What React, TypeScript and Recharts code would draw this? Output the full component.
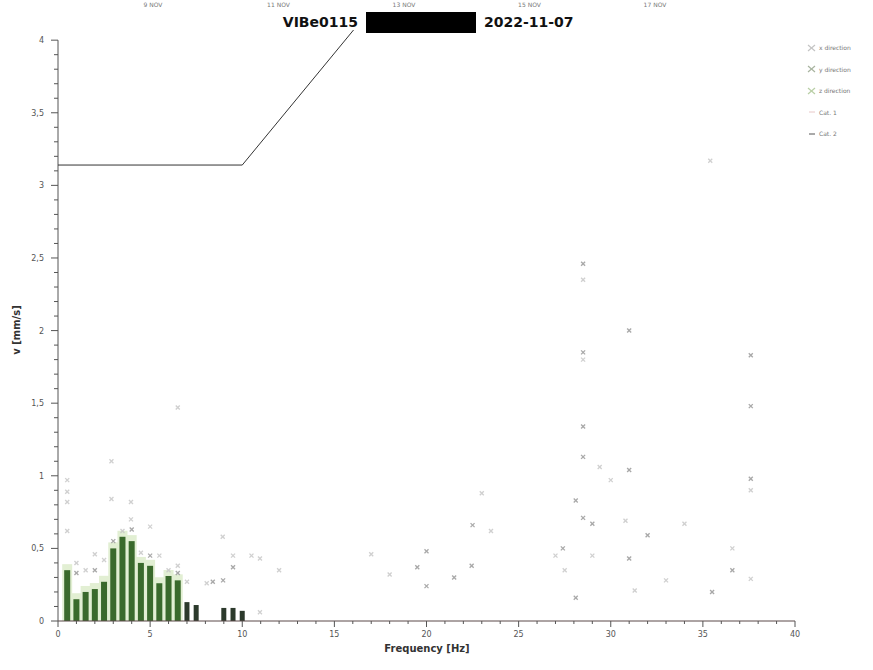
import { ComposedChart, Bar, Scatter, Line, XAxis, YAxis, ReferenceLine } from 'recharts';

// z direction: dense vertical columns of peaks at 0.5 Hz spacing
const Z_FREQ = [0.5, 1, 1.5, 2, 2.5, 3, 3.5, 4, 4.5, 5, 5.5, 6, 6.5, 7, 7.5, 9, 9.5, 10];
const Z_PEAK = [0.35, 0.15, 0.2, 0.22, 0.27, 0.5, 0.58, 0.55, 0.4, 0.38, 0.26, 0.31, 0.28, 0.13, 0.11, 0.09, 0.09, 0.07];

// x direction (light grey markers)
const X_DIR_F = [0.5, 0.5, 0.5, 0.5, 1, 1.5, 2, 2.5, 2.9, 2.9, 3.5, 3.96, 3.96, 4.5, 5, 5.5, 6, 6.5, 6.5, 7, 8.07, 8.94, 9.5, 10.5, 10.96, 10.96, 12, 17, 18, 23, 23.5, 28.5, 28.5, 29.4, 30, 35.4, 27, 27.5, 31.3, 33, 34, 36.6, 37.6, 30.8, 37.6, 29];
const X_DIR_V = [0.97, 0.89, 0.82, 0.62, 0.4, 0.35, 0.46, 0.42, 1.1, 0.84, 0.62, 0.82, 0.7, 0.47, 0.65, 0.45, 0.35, 1.47, 0.38, 0.27, 0.26, 0.58, 0.45, 0.45, 0.43, 0.06, 0.35, 0.46, 0.32, 0.88, 0.62, 2.35, 1.8, 1.06, 0.97, 3.17, 0.45, 0.35, 0.21, 0.28, 0.67, 0.5, 0.9, 0.69, 0.29, 0.45];

// y direction (darker grey markers)
const Y_DIR_F = [1, 2, 3, 4, 5, 6.5, 8.4, 8.96, 9.5, 19.5, 20, 20, 21.5, 22.45, 22.5, 28.5, 31, 28.5, 37.6, 37.6, 28.5, 28.5, 31, 37.6, 28.1, 28.5, 29, 32, 27.4, 31, 36.6, 35.5, 28.1];
const Y_DIR_V = [0.33, 0.35, 0.55, 0.63, 0.45, 0.33, 0.27, 0.28, 0.37, 0.37, 0.48, 0.24, 0.3, 0.38, 0.66, 2.46, 2.0, 1.85, 1.83, 1.48, 1.34, 1.13, 1.04, 0.98, 0.83, 0.71, 0.67, 0.59, 0.5, 0.43, 0.35, 0.2, 0.16];

// Cat. 2 limit line
const CAT2_F = [0, 10, 16.04];
const CAT2_V = [3.14, 3.14, 4.07];

const X_MAJOR = [0, 5, 10, 15, 20, 25, 30, 35, 40];
const Y_MAJOR = [0, 0.5, 1, 1.5, 2, 2.5, 3, 3.5, 4];
const Y_LABELS = ['0', '0,5', '1', '1,5', '2', '2,5', '3', '3,5', '4'];
const DATE_LABELS = ['9 NOV', '11 NOV', '13 NOV', '15 NOV', '17 NOV'];

const LEGEND = [
  { name: 'x direction', color: '#c4c4c4', kind: 'x' },
  { name: 'y direction', color: '#a8b4a0', kind: 'x' },
  { name: 'z direction', color: '#b9cfa6', kind: 'x' },
  { name: 'Cat. 1', color: '#e8c8c8', kind: 'line' },
  { name: 'Cat. 2', color: '#555555', kind: 'line' },
];

const zData = Z_FREQ.map((f, i) => ({ f, v: Z_PEAK[i] }));
const xDir = X_DIR_F.map((f, i) => ({ f, v: X_DIR_V[i] }));
const yDir = Y_DIR_F.map((f, i) => ({ f, v: Y_DIR_V[i] }));
const cat2 = CAT2_F.map((f, i) => ({ f, v: CAT2_V[i] }));

const xTicks = Array.from({ length: 41 }, (_, i) => i);
const yTicks = Array.from({ length: 41 }, (_, i) => Math.round(i * 10) / 100);

const TICK_FONT = 'DejaVu Sans, sans-serif';
const COL_W = 6;

function XTick(props: any) {
  const { x, y, payload } = props;
  const major = X_MAJOR.includes(payload.value);
  return (
    <g>
      <line x1={x} x2={x} y1={y} y2={y + (major ? 6 : 3)} stroke="#555" strokeWidth={1} />
      {major && (
        <text x={x} y={y + 16} textAnchor="middle" fontSize={8} fill="#555" fontFamily={TICK_FONT}>
          {payload.value}
        </text>
      )}
    </g>
  );
}

function YTick(props: any) {
  const { x, y, payload } = props;
  const idx = Y_MAJOR.findIndex((m) => Math.abs(m - payload.value) < 1e-6);
  return (
    <g>
      <line x1={x - (idx >= 0 ? 7 : 4)} x2={x} y1={y} y2={y} stroke="#555" strokeWidth={1} />
      {idx >= 0 && (
        <text x={x - 14} y={y + 3} textAnchor="end" fontSize={8} fill="#555" fontFamily={TICK_FONT}>
          {Y_LABELS[idx]}
        </text>
      )}
    </g>
  );
}

function Cross(props: any) {
  const { cx, cy, fill } = props;
  const s = 2;
  return (
    <g stroke={fill} strokeWidth={1.3} opacity={0.85}>
      <line x1={cx - s} y1={cy - s} x2={cx + s} y2={cy + s} />
      <line x1={cx - s} y1={cy + s} x2={cx + s} y2={cy - s} />
    </g>
  );
}

function Column(props: any) {
  const { x, y, width, height, payload } = props;
  if (!height || height <= 0) return null;
  const late = payload && payload.f >= 7;
  const cx = x + width / 2;
  const w = late ? 5 : COL_W;
  return (
    <g>
      {!late && <rect x={cx - w / 2 - 2} y={y - 6} width={w + 4} height={height + 6} fill="#e2efd3" />}
      <rect x={cx - w / 2} y={y} width={w} height={height} fill={late ? '#2c3a2c' : '#3a6a2c'} />
    </g>
  );
}

export default function App() {
  return (
    <div style={{ position: 'absolute', left: 0, top: 0, width: 873, height: 670, background: '#fff' }}>
      <ComposedChart
        width={873}
        height={670}
        data={zData}
        margin={{ top: 30, right: 78, bottom: 9, left: 0 }}
      >
        <XAxis
          dataKey="f"
          type="number"
          domain={[0, 40]}
          ticks={xTicks}
          interval={0}
          tickSize={0}
          tickMargin={0}
          tick={<XTick />}
          height={40}
          axisLine={{ stroke: '#5a4848', strokeWidth: 1 }}
          tickLine={false}
          allowDataOverflow
        />
        <YAxis
          type="number"
          domain={[0, 4.07]}
          ticks={yTicks}
          interval={0}
          tickSize={0}
          tickMargin={0}
          tick={<YTick />}
          width={58}
          axisLine={false}
          tickLine={false}
          allowDataOverflow
        />
        <ReferenceLine
          segment={[{ x: 0, y: 0 }, { x: 0, y: 4 }]}
          stroke="#555"
          strokeWidth={1}
          ifOverflow="visible"
        />
        <Bar dataKey="v" barSize={6} shape={<Column />} isAnimationActive={false} />
        <Scatter name="x direction" data={xDir} dataKey="v" fill="#c8c8c8" shape={<Cross />} isAnimationActive={false} />
        <Scatter name="y direction" data={yDir} dataKey="v" fill="#9a9a9a" shape={<Cross />} isAnimationActive={false} />
        <Line
          name="Cat. 2"
          data={cat2}
          dataKey="v"
          type="linear"
          stroke="#333"
          strokeWidth={1}
          dot={false}
          isAnimationActive={false}
        />
        <text x={427} y={652} textAnchor="middle" fontSize={10} fontWeight="bold" fill="#333" fontFamily={TICK_FONT}>
          Frequency [Hz]
        </text>
        <text
          x={20}
          y={330}
          textAnchor="middle"
          fontSize={10}
          fontWeight="bold"
          fill="#333"
          fontFamily={TICK_FONT}
          transform="rotate(-90 20 330)"
        >
          v [mm/s]
        </text>
        <text x={358} y={27} textAnchor="end" fontSize={14} fontWeight="bold" fill="#111" fontFamily={TICK_FONT}>
          VIBe0115
        </text>
        <rect x={366} y={12} width={110} height={21} fill="#000" />
        <text x={484} y={27} textAnchor="start" fontSize={14} fontWeight="bold" fill="#111" fontFamily={TICK_FONT}>
          2022-11-07
        </text>
        {DATE_LABELS.map((d, i) => (
          <text key={d} x={153 + i * 125.5} y={7} textAnchor="middle" fontSize={6} fill="#777" fontFamily={TICK_FONT}>
            {d}
          </text>
        ))}
      </ComposedChart>
      <div style={{ position: 'absolute', left: 806, top: 37, width: 67, fontFamily: TICK_FONT, fontSize: 6, color: '#777' }}>
        {LEGEND.map((item) => (
          <div key={item.name} style={{ display: 'flex', alignItems: 'center', height: 21.5 }}>
            <svg width={10} height={8} style={{ marginRight: 3 }}>
              {item.kind === 'x' ? (
                <g stroke={item.color} strokeWidth={1.2}>
                  <line x1={2} y1={1} x2={9} y2={7} />
                  <line x1={2} y1={7} x2={9} y2={1} />
                </g>
              ) : (
                <line x1={3} y1={4} x2={9} y2={4} stroke={item.color} strokeWidth={1} />
              )}
            </svg>
            <span>{item.name}</span>
          </div>
        ))}
      </div>
    </div>
  );
}
